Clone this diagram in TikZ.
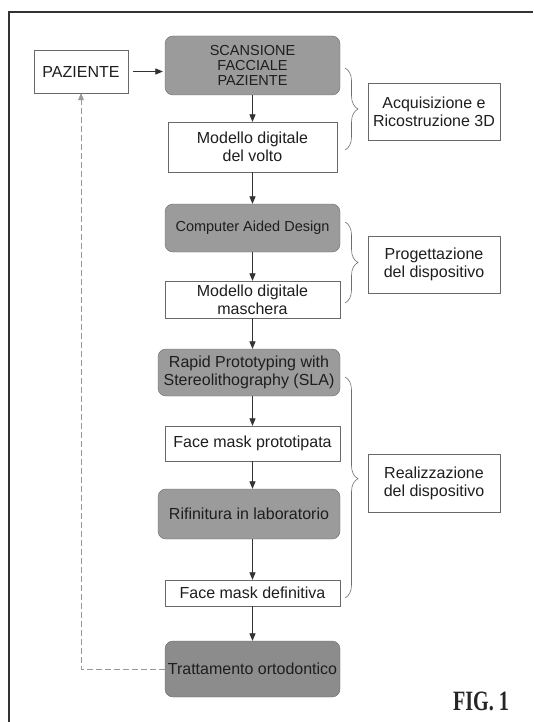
\documentclass[tikz,border=0pt]{standalone}
\usepackage{fontspec}
\setmainfont{Liberation Sans}
\newfontfamily\figfont{Liberation Serif}
\usetikzlibrary{arrows,decorations.pathreplacing}
\definecolor{boxfill}{RGB}{155,155,155}
\definecolor{darkfill}{RGB}{140,140,140}
\definecolor{boxline}{RGB}{105,105,105}
\definecolor{txt}{RGB}{30,30,30}
\definecolor{bracecol}{RGB}{110,110,110}

\begin{document}
\begin{tikzpicture}[x=1pt,y=-1pt,
    every node/.style={font=\fontsize{16}{18}\selectfont,text=txt},
    greybox/.style={draw=boxline,fill=boxfill,rounded corners=8pt,align=center,inner sep=0pt},
    whitebox/.style={draw=boxline,fill=white,align=center,inner sep=0pt},
    flow/.style={-triangle 45,line width=0.7pt,draw=black!80},
    phasebrace/.style={decorate,decoration={brace,amplitude=13pt},draw=bracecol,line width=0.6pt}]
    \useasboundingbox (0,0) rectangle (533,722);

    % frame of the figure
    \draw[black!80,line width=1.2pt] (9,722) -- (9,12) -- (533,12);

    % main chain
    \node[whitebox,minimum width=94,minimum height=43] (paz) at (81,71.5) {PAZIENTE};
    \node[greybox,minimum width=175,minimum height=59,font=\fontsize{14.5}{15}\selectfont] (scan) at (252.5,65.5) {SCANSIONE\\FACCIALE\\PAZIENTE};
    \node[whitebox,minimum width=169,minimum height=50] (volto) at (252.5,147) {Modello digitale\\del volto};
    \node[greybox,minimum width=175,minimum height=48,font=\fontsize{14.5}{16}\selectfont] (cad) at (252.5,228) {Computer Aided Design};
    \node[whitebox,minimum width=175,minimum height=37] (masch) at (252.5,299.5) {Modello digitale\\maschera};
    \node[greybox,minimum width=182,minimum height=47] (rp) at (249,372.5) {Rapid Prototyping with\\Stereolithography (SLA)};
    \node[whitebox,minimum width=175,minimum height=35] (proto) at (252.5,443.5) {Face mask prototipata};
    \node[greybox,minimum width=182,minimum height=50] (rif) at (249,514) {Rifinitura in laboratorio};
    \node[whitebox,minimum width=175,minimum height=26] (defin) at (252.5,593) {Face mask definitiva};
    \node[greybox,fill=darkfill,minimum width=175,minimum height=56] (tratt) at (252.5,669) {Trattamento ortodontico};

    % phases
    \node[whitebox,minimum width=132,minimum height=57] (acq) at (434,111.5) {Acquisizione e\\Ricostruzione 3D};
    \node[whitebox,minimum width=132,minimum height=57] (prog) at (434,264.5) {Progettazione\\del dispositivo};
    \node[whitebox,minimum width=132,minimum height=58] (real) at (434,483) {Realizzazione\\del dispositivo};

    \draw[phasebrace] (345,68) -- (345,150);
    \draw[phasebrace] (345,222) -- (345,303);
    \draw[phasebrace,decoration={aspect=0.46}] (345,377) -- (345,598);

    % arrows
    \draw[flow,shorten <=5pt,shorten >=2pt] (paz.east) -- (paz.east -| scan.west);
    \foreach \a/\b in {scan/volto,volto/cad,cad/masch,masch/rp,rp/proto,proto/rif,rif/defin,defin/tratt}
        \draw[flow] (\a.south -| volto) -- (\b.north -| volto);
    \draw[flow,draw=black!40,dash pattern=on 6pt off 3pt,line width=0.6pt] (tratt.west) -| (paz.south);

    \node[font=\figfont\bfseries\fontsize{28}{28}\selectfont,text=black!85] (fig) at (481,701) {\scalebox{0.72}[1]{FIG. 1}};
\end{tikzpicture}
\end{document}
